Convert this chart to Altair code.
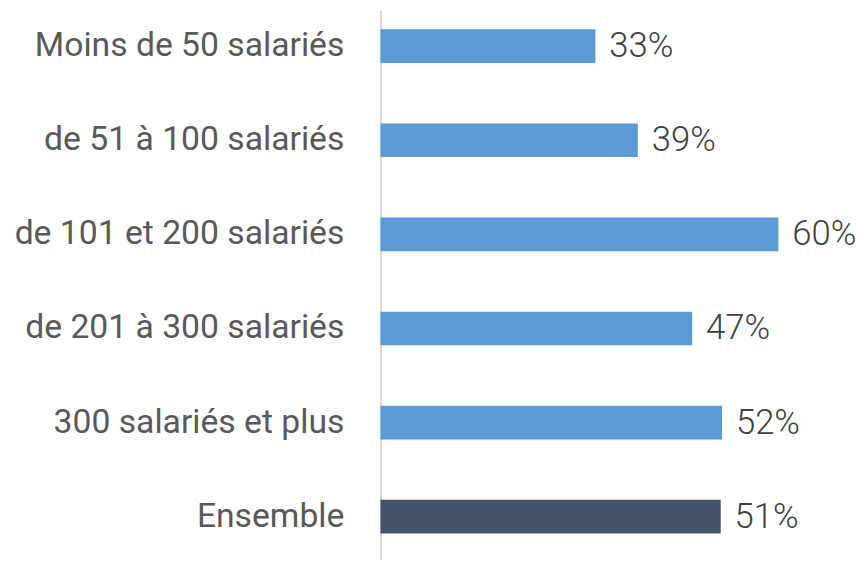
import altair as alt
import pandas as pd

categories = ["Moins de 50 salariés", "de 51 à 100 salariés", "de 101 et 200 salariés",
              "de 201 à 300 salariés", "300 salariés et plus", "Ensemble"]
values = [32.4, 38.8, 60.0, 47.0, 51.5, 51.3]
labels = ["33%", "39%", "60%", "47%", "52%", "51%"]
groups = ["size", "size", "size", "size", "size", "total"]

df = pd.DataFrame({"cat": categories, "val": values, "label": labels, "grp": groups})

FONT = "Roboto"

y = alt.Y("cat:N", sort=categories,
          scale=alt.Scale(paddingInner=0.642, paddingOuter=0.2368, align=0.42),
          axis=alt.Axis(title=None, ticks=False, labelPadding=37, labelFontSize=34,
                        labelFont=FONT, labelColor="#595959", domainColor="#d9d9d9",
                        domainWidth=2, labelLimit=400))
x = alt.X("val:Q", scale=alt.Scale(domain=[0, 72.0], nice=False), axis=None)

bars = alt.Chart(df).mark_bar().encode(
    x=x, y=y,
    color=alt.Color("grp:N", scale=alt.Scale(domain=["size", "total"],
                                             range=["#5B9BD5", "#44546A"]), legend=None),
)
text = alt.Chart(df).mark_text(align="left", baseline="middle", dx=14, font=FONT,
                               fontSize=35, fontWeight=300, color="#404040").encode(
    x=x, y=y, text="label:N")

chart = (bars + text).properties(
    width=482, height=554,
    autosize=alt.AutoSizeParams(type="none"),
    padding={"left": 376, "top": 0, "right": 0, "bottom": 0},
).configure_view(stroke=None).configure_axis(grid=False)

chart.save("out.html", embed_options={"renderer": "svg", "actions": False})
